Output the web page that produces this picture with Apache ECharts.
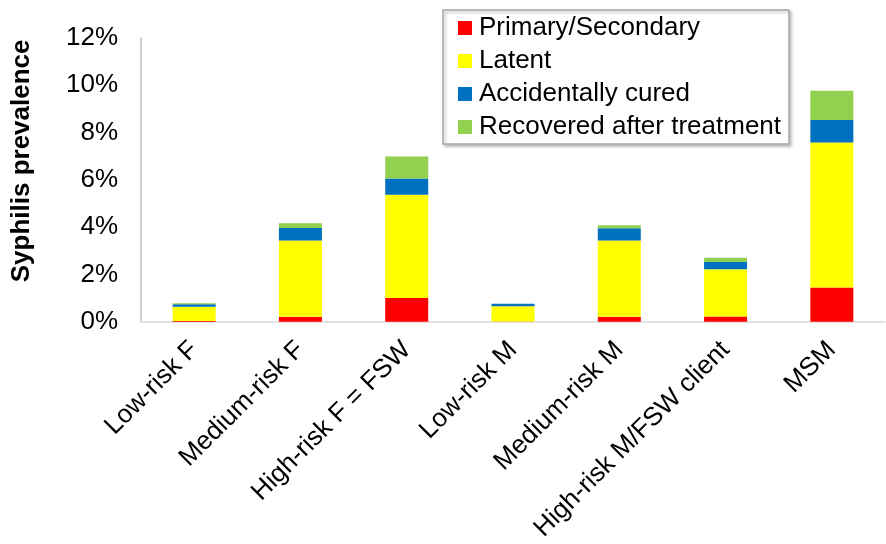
<!DOCTYPE html>
<html>
<head>
<meta charset="utf-8">
<script src="https://cdn.jsdelivr.net/npm/echarts@6/dist/echarts.min.js"></script>
<style>
  html, body { margin: 0; padding: 0; background: #fff; }
  #chart { width: 886px; height: 544px; }
</style>
</head>
<body>
<div id="chart"></div>
<script>
// Population groups on the x axis
const categories = ['Low-risk F', 'Medium-risk F', 'High-risk F = FSW', 'Low-risk M', 'Medium-risk M', 'High-risk M/FSW client', 'MSM'];

// Prevalence (%) by syphilis stage, stacked per group
const primarySecondary = [0.03, 0.21, 1.00, 0.01, 0.21, 0.22, 1.45];
const latent           = [0.61, 3.23, 4.37, 0.65, 3.23, 2.00, 6.13];
const accidentallyCured = [0.10, 0.53, 0.69, 0.10, 0.51, 0.31, 0.95];
const recovered        = [0.04, 0.20, 0.93, 0.00, 0.13, 0.18, 1.24];

const yTicks = [0, 2, 4, 6, 8, 10, 12];

const font = '"Liberation Sans", Arial, sans-serif';

function stage(name, data, color) {
  return {
    name: name,
    type: 'bar',
    stack: 'total',
    data: data,
    barWidth: 43,
    itemStyle: { color: color },
    emphasis: { disabled: true }
  };
}

const chart = echarts.init(document.getElementById('chart'), null, { renderer: 'canvas' });
chart.setOption({
  animation: false,
  backgroundColor: '#ffffff',
  textStyle: { fontFamily: font },
  grid: { left: 141, right: 1, top: 38, bottom: 221, containLabel: false },
  legend: {
    orient: 'vertical',
    left: 443,
    top: 10,
    width: 350,
    padding: [5, 8, 4, 15],
    itemGap: 7,
    itemWidth: 14,
    itemHeight: 14,
    icon: 'rect',
    backgroundColor: '#ffffff',
    borderColor: '#A6A6A6',
    borderWidth: 1.5,
    shadowColor: 'rgba(0,0,0,0.25)',
    shadowBlur: 3,
    shadowOffsetX: 2,
    shadowOffsetY: 2,
    textStyle: { fontFamily: font, fontSize: 26, color: '#000', padding: [0, 0, 0, 2] },
    data: ['Primary/Secondary', 'Latent', 'Accidentally cured', 'Recovered after treatment']
  },
  xAxis: {
    type: 'category',
    data: categories,
    axisLine: { lineStyle: { color: '#D9D9D9', width: 1.5 } },
    axisTick: { show: false },
    axisLabel: {
      rotate: 45,
      interval: 0,
      margin: 24,
      fontFamily: font,
      fontSize: 26,
      color: '#000'
    }
  },
  yAxis: {
    type: 'value',
    min: yTicks[0],
    max: yTicks[yTicks.length - 1],
    interval: yTicks[1] - yTicks[0],
    name: 'Syphilis prevalence',
    nameLocation: 'middle',
    nameGap: 106,
    nameRotate: 90,
    nameTextStyle: {
      fontFamily: font, fontSize: 26, fontWeight: 'bold', color: '#000',
      padding: [0, 0, 0, 38]
    },
    axisLine: { show: true, lineStyle: { color: '#BFBFBF', width: 1.5 } },
    axisTick: { show: false },
    splitLine: { show: false },
    axisLabel: {
      margin: 23,
      fontFamily: font,
      fontSize: 26,
      color: '#000',
      formatter: '{value}%'
    }
  },
  series: [
    stage('Primary/Secondary', primarySecondary, '#FF0000'),
    stage('Latent', latent, '#FFFF00'),
    stage('Accidentally cured', accidentallyCured, '#0070C0'),
    stage('Recovered after treatment', recovered, '#92D050')
  ]
});
</script>
</body>
</html>
